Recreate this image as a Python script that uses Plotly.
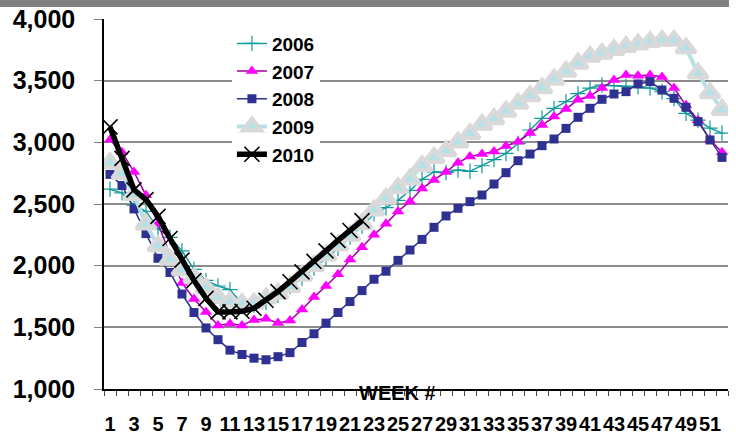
import plotly.graph_objects as go

weeks = list(range(1, 53))
tick_weeks = list(range(1, 52, 2))

s2006 = [2620, 2590, 2490, 2440, 2300, 2230, 2120, 1970, 1880, 1835, 1805, 1690, 1680,
         1700, 1760, 1830, 1900, 1980, 2060, 2140, 2230, 2320, 2420, 2470, 2530, 2610,
         2700, 2760, 2755, 2775, 2765, 2810, 2860, 2910, 2990, 3100, 3195, 3275, 3330,
         3395, 3440, 3465, 3460, 3455, 3450, 3440, 3410, 3355, 3235, 3180, 3115, 3075]
s2007 = [3020, 2920, 2760, 2570, 2340, 2090, 1860, 1730, 1625, 1515, 1530, 1515, 1560,
         1570, 1535, 1555, 1645, 1745, 1835, 1930, 2050, 2150, 2250, 2340, 2440, 2520,
         2625, 2695, 2760, 2835, 2885, 2905, 2925, 2970, 3005, 3075, 3140, 3210, 3270,
         3345, 3375, 3440, 3505, 3545, 3540, 3545, 3530, 3440, 3300, 3180, 3020, 2920]
s2008 = [2740, 2650, 2460, 2260, 2060, 1945, 1770, 1620, 1495, 1400, 1315, 1280, 1250,
         1237, 1262, 1295, 1377, 1448, 1534, 1620, 1709, 1798, 1890, 1955, 2043, 2127,
         2213, 2311, 2403, 2465, 2519, 2573, 2662, 2754, 2851, 2905, 2973, 3027, 3113,
         3203, 3276, 3349, 3392, 3411, 3473, 3492, 3424, 3357, 3284, 3168, 3019, 2878]
s2009 = [2835, 2745, 2575, 2335, 2160, 2050, 1965, 1900, 1820, 1740, 1705, 1690, 1695,
         1735, 1775, 1830, 1920, 2000, 2085, 2165, 2245, 2340, 2450, 2545, 2630, 2700,
         2810, 2875, 2930, 3000, 3070, 3145, 3190, 3250, 3315, 3375, 3440, 3510, 3575,
         3640, 3695, 3720, 3750, 3775, 3795, 3815, 3825, 3825, 3765, 3560, 3400, 3265]
s2010 = [3125, 2870, 2615, 2535, 2400, 2220, 2045, 1880, 1735, 1625, 1625, 1630, 1655,
         1720, 1790, 1870, 1950, 2035, 2120, 2205, 2285, 2365]

FONT = "Liberation Sans, Arial, sans-serif"

fig = go.Figure()
fig.add_trace(go.Scatter(
    x=weeks, y=s2006, name="2006", mode="lines+markers",
    line=dict(color="#139a9a", width=1.5),
    marker=dict(symbol="cross-thin", size=11, line=dict(color="#139a9a", width=1.2))))
fig.add_trace(go.Scatter(
    x=weeks, y=s2007, name="2007", mode="lines+markers",
    line=dict(color="#a000a0", width=1.5),
    marker=dict(symbol="triangle-up", size=11, color="#ff00ff")))
fig.add_trace(go.Scatter(
    x=weeks, y=s2008, name="2008", mode="lines+markers",
    line=dict(color="#2e3192", width=1.5),
    marker=dict(symbol="square", size=9, color="#2e3192")))
fig.add_trace(go.Scatter(
    x=weeks, y=s2009, name="2009", mode="lines+markers",
    line=dict(color="#b4e0e6", width=4),
    marker=dict(symbol="triangle-up", size=17, color="#b4e0e6",
                line=dict(color="#d9d9d9", width=4))))
fig.add_trace(go.Scatter(
    x=weeks[:len(s2010)], y=s2010, name="2010", mode="lines+markers",
    line=dict(color="#000000", width=5.5),
    marker=dict(symbol="x-thin", size=15, line=dict(color="#000000", width=1.6))))

fig.update_layout(
    width=736, height=435,
    margin=dict(l=104, r=8, t=19, b=46, autoexpand=False),
    paper_bgcolor="white", plot_bgcolor="white",
    font=dict(family=FONT, color="black"),
    showlegend=True,
    legend=dict(x=0.205, y=0.985, xanchor="left", yanchor="top",
                bgcolor="white", borderwidth=0,
                font=dict(family=FONT, size=19, weight="bold", color="black"),
                tracegroupgap=0),
    xaxis=dict(range=[0.5, 52.5], tickmode="array", tickvals=tick_weeks,
               ticktext=[str(w) for w in tick_weeks], tickangle=0,
               ticks="", ticklabelstandoff=16, automargin=False,
               tickfont=dict(family=FONT, size=20, weight="bold", color="black"),
               showgrid=False, zeroline=False,
               showline=True, linecolor="black", linewidth=1.5,
               minor=dict(ticks="outside", ticklen=5, tickcolor="#444",
                          tickmode="linear", tick0=0.5, dtick=1, showgrid=False)),
    yaxis=dict(range=[1000, 4000], tickmode="linear", tick0=1000, dtick=500,
               tickformat=",d", ticks="outside", ticklen=8, tickcolor="#808080",
               ticklabelstandoff=14, automargin=False,
               tickfont=dict(family=FONT, size=25, weight="bold", color="black"),
               showgrid=True, gridcolor="#8c8c8c", gridwidth=1.5, zeroline=False,
               showline=True, linecolor="black", linewidth=1.5),
    shapes=[dict(type="rect", xref="paper", yref="paper",
                 x0=-104/624, x1=(729-104)/624, y0=(389-7)/370, y1=389/370 + 0.01,
                 fillcolor="#808080", line=dict(width=0), layer="above")],
    annotations=[dict(text="WEEK #", xref="paper", yref="paper",
                      x=(397-104)/624, y=-3.5/370, xanchor="center", yanchor="middle",
                      showarrow=False,
                      font=dict(family=FONT, size=20, weight="bold", color="black"))],
)

fig.write_html("out.html", config={"displayModeBar": False},
               post_script="document.body.style.margin='0';document.body.style.padding='0';")
